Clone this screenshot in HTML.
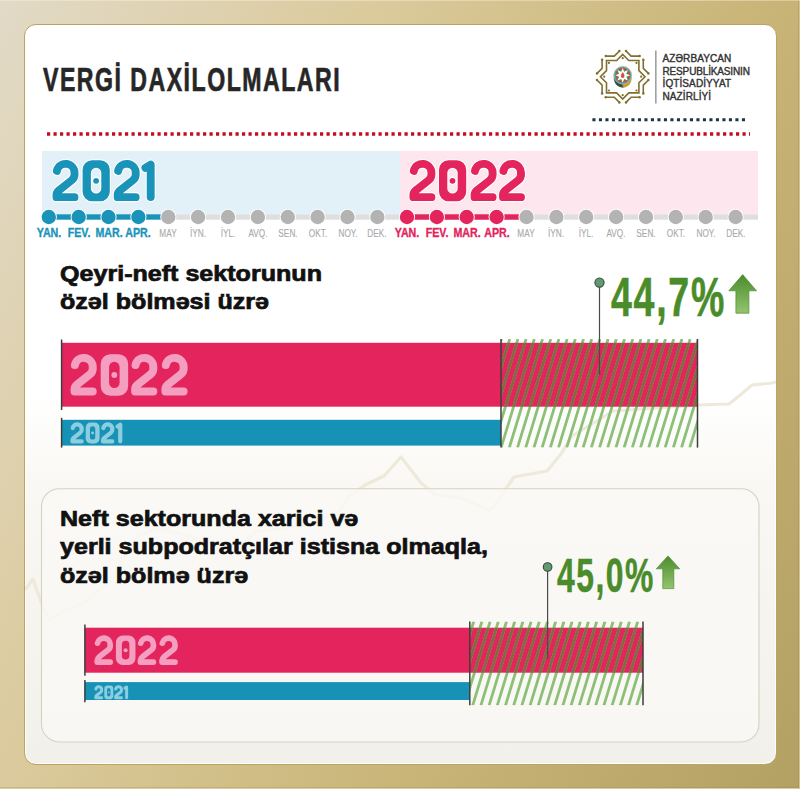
<!DOCTYPE html>
<html><head><meta charset="utf-8">
<style>
html,body{margin:0;padding:0;}
body{width:800px;height:789px;position:relative;overflow:hidden;
 background:linear-gradient(115deg,#e2dac7 0%,#dbca9c 32%,#c8b476 67%,#b3a063 100%);
 font-family:"Liberation Sans",sans-serif;}
#card{position:absolute;left:24px;top:24px;width:751px;height:739px;border:1px solid #bba45f;border-radius:12px;box-shadow:inset 0 0 0 1px rgba(255,255,255,0.9);
 background:linear-gradient(180deg,#ffffff 0%,#ffffff 50%,#f9f8f4 62%,#f2f0ea 100%);}
.t{position:absolute;white-space:nowrap;line-height:1;}
svg{position:absolute;left:0;top:0;}
</style></head><body>
<div id="card"></div>
<div style="position:absolute;left:0;top:788px;width:800px;height:1px;background:#d9cda6"></div>
<div style="position:absolute;left:799px;top:0;width:1px;height:789px;background:#d3c596"></div>
<div style="position:absolute;left:0;top:787px;width:799px;height:1px;background:rgba(150,130,60,0.25)"></div>
<div style="position:absolute;left:798px;top:0;width:1px;height:787px;background:rgba(150,130,60,0.25)"></div>
<div style="position:absolute;left:0;top:0;width:800px;height:1px;background:rgba(255,250,235,0.35)"></div>
<svg width="800" height="789" viewBox="0 0 800 789">
<defs>
 <clipPath id="cardclip"><rect x="25" y="25" width="751" height="739" rx="12"/></clipPath>
 <pattern id="hatch" patternUnits="userSpaceOnUse" width="8.25" height="108" patternTransform="skewX(-17)">
  <rect x="0" y="0" width="2.4" height="108" fill="#5d9e3a" fill-opacity="0.7"/>
 </pattern>
 <linearGradient id="arrowg" x1="0" y1="0" x2="0" y2="1">
  <stop offset="0" stop-color="#4b8c2c"/><stop offset="1" stop-color="#93c46e"/>
 </linearGradient>
<clipPath id="hc1"><rect x="501" y="339" width="196.5" height="108.60000000000002"/></clipPath>
<clipPath id="pc1"><rect x="501" y="342.8" width="196.5" height="63.89999999999998"/></clipPath>
<clipPath id="hc2"><rect x="469.8" y="621.5" width="173.2" height="83.79999999999995"/></clipPath>
<clipPath id="pc2"><rect x="469.8" y="627.7" width="173.2" height="45.0"/></clipPath>
</defs>
<g clip-path="url(#cardclip)"><polyline points="800,375 772,383 752,385 739,396 729,404 699,405 613,411 592,424 572,436 561,454 547,471 514,477 495,505 489,510 462,498 436,495 421,483 401,457 384,476 365,485 350,496 339,511 313,524 256,532 241,545 200,540 160,528 139,535 122,561 110,581 86,602 66,610 49,620 41,602 33,579 25,590" fill="none" stroke="#eee9da" stroke-width="3.2" stroke-linejoin="round"/></g>
<rect x="41.5" y="488.7" width="717.5" height="253.3" rx="18" fill="#faf9f6" fill-opacity="0.8" stroke="#d7d1bf" stroke-width="1.1"/>
<line x1="47" y1="134" x2="750" y2="134" stroke="#c30d1f" stroke-width="3.3" stroke-dasharray="3.2 3.3"/>
<line x1="592.4" y1="119.8" x2="745" y2="119.8" stroke="#1c3645" stroke-width="3.1" stroke-dasharray="3.1 3.4"/>
<rect x="655.2" y="50.5" width="1.3" height="53" fill="#8a8a8a"/>
<g transform="translate(622.7,76.7)" fill="none" stroke="#80702f" stroke-width="1.6">
<path d="M-16.90,-20.60 L-8.40,-20.60 L-3.30,-25.70 M3.30,-25.70 L8.40,-20.60 L16.90,-20.60 M20.60,-16.90 L20.60,-8.40 L25.70,-3.30 M25.70,3.30 L20.60,8.40 L20.60,16.90 M16.90,20.60 L8.40,20.60 L3.30,25.70 M-3.30,25.70 L-8.40,20.60 L-16.90,20.60 M-20.60,16.90 L-20.60,8.40 L-25.70,3.30 M-25.70,-3.30 L-20.60,-8.40 L-20.60,-16.90"/>
<circle cx="-16.90" cy="-20.60" r="1.25" fill="#80702f" stroke="none"/>
<circle cx="-3.30" cy="-25.70" r="1.25" fill="#80702f" stroke="none"/>
<circle cx="3.30" cy="-25.70" r="1.25" fill="#80702f" stroke="none"/>
<circle cx="16.90" cy="-20.60" r="1.25" fill="#80702f" stroke="none"/>
<circle cx="20.60" cy="-16.90" r="1.25" fill="#80702f" stroke="none"/>
<circle cx="25.70" cy="-3.30" r="1.25" fill="#80702f" stroke="none"/>
<circle cx="25.70" cy="3.30" r="1.25" fill="#80702f" stroke="none"/>
<circle cx="20.60" cy="16.90" r="1.25" fill="#80702f" stroke="none"/>
<circle cx="16.90" cy="20.60" r="1.25" fill="#80702f" stroke="none"/>
<circle cx="3.30" cy="25.70" r="1.25" fill="#80702f" stroke="none"/>
<circle cx="-3.30" cy="25.70" r="1.25" fill="#80702f" stroke="none"/>
<circle cx="-16.90" cy="20.60" r="1.25" fill="#80702f" stroke="none"/>
<circle cx="-20.60" cy="16.90" r="1.25" fill="#80702f" stroke="none"/>
<circle cx="-25.70" cy="3.30" r="1.25" fill="#80702f" stroke="none"/>
<circle cx="-25.70" cy="-3.30" r="1.25" fill="#80702f" stroke="none"/>
<circle cx="-20.60" cy="-16.90" r="1.25" fill="#80702f" stroke="none"/>
<path d="M-16.20,-16.20 L-6.10,-16.20 L0.00,-22.30 L6.10,-16.20 L16.20,-16.20 L16.20,-6.10 L22.30,-0.00 L16.20,6.10 L16.20,16.20 L6.10,16.20 L0.00,22.30 L-6.10,16.20 L-16.20,16.20 L-16.20,6.10 L-22.30,0.00 L-16.20,-6.10 Z" stroke-width="1.6"/>
</g>
<circle cx="641.20" cy="76.70" r="1.1" fill="#80702f"/>
<circle cx="636.49" cy="90.49" r="1.1" fill="#80702f"/>
<circle cx="622.70" cy="95.20" r="1.1" fill="#80702f"/>
<circle cx="608.91" cy="90.49" r="1.1" fill="#80702f"/>
<circle cx="604.20" cy="76.70" r="1.1" fill="#80702f"/>
<circle cx="608.91" cy="62.91" r="1.1" fill="#80702f"/>
<circle cx="622.70" cy="58.20" r="1.1" fill="#80702f"/>
<circle cx="636.49" cy="62.91" r="1.1" fill="#80702f"/>
<path d="M613.7,77.3 C613.7,84.3 618.7,87.8 623.7,87.8 L623.7,84.3 Z" fill="#1f4f4a"/>
<path d="M631.7,77.3 C631.7,84.3 627.7,87.3 622.7,87.8 L622.7,84.3 Z" fill="#c99a35"/>
<circle cx="622.7" cy="75.3" r="8.9" fill="#26aee0" stroke="#e0ad45" stroke-width="0.8"/>
<circle cx="622.7" cy="75.3" r="7.3" fill="#e63c2e"/>
<circle cx="622.7" cy="75.3" r="6.0" fill="#3f9c4c"/>
<polygon points="622.70,67.90 624.19,71.70 627.93,70.07 626.30,73.81 630.10,75.30 626.30,76.79 627.93,80.53 624.19,78.90 622.70,82.70 621.21,78.90 617.47,80.53 619.10,76.79 615.30,75.30 619.10,73.81 617.47,70.07 621.21,71.70" fill="#ffffff"/>
<path d="M622.7,72.1 C624.3000000000001,74.3 624.7,75.8 624.3000000000001,77.1 C623.7,78.3 621.7,78.3 621.1,77.1 C620.7,75.8 621.1,74.3 622.7,72.1 Z" fill="#e1473f"/>
<rect x="42" y="151" width="358" height="63.5" fill="#e2f1f7"/>
<rect x="400" y="151" width="358" height="63.5" fill="#fde6ee"/>
<rect x="160" y="214.4" width="598" height="5.3" fill="#dedede"/>
<rect x="48.8" y="214.3" width="115" height="5.4" fill="#1a93b9"/>
<rect x="407" y="214.3" width="115" height="5.4" fill="#e3245d"/>
<circle cx="48.8" cy="217" r="8.1" fill="#fff"/>
<circle cx="48.8" cy="217" r="7.2" fill="#1a93b9"/>
<circle cx="78.7" cy="217" r="8.1" fill="#fff"/>
<circle cx="78.7" cy="217" r="7.2" fill="#1a93b9"/>
<circle cx="108.5" cy="217" r="8.1" fill="#fff"/>
<circle cx="108.5" cy="217" r="7.2" fill="#1a93b9"/>
<circle cx="138.4" cy="217" r="8.1" fill="#fff"/>
<circle cx="138.4" cy="217" r="7.2" fill="#1a93b9"/>
<circle cx="168.3" cy="217" r="8.1" fill="#fff"/>
<circle cx="168.3" cy="217" r="7.2" fill="#b3b3b3"/>
<circle cx="198.1" cy="217" r="8.1" fill="#fff"/>
<circle cx="198.1" cy="217" r="7.2" fill="#b3b3b3"/>
<circle cx="228.0" cy="217" r="8.1" fill="#fff"/>
<circle cx="228.0" cy="217" r="7.2" fill="#b3b3b3"/>
<circle cx="257.9" cy="217" r="8.1" fill="#fff"/>
<circle cx="257.9" cy="217" r="7.2" fill="#b3b3b3"/>
<circle cx="287.8" cy="217" r="8.1" fill="#fff"/>
<circle cx="287.8" cy="217" r="7.2" fill="#b3b3b3"/>
<circle cx="317.6" cy="217" r="8.1" fill="#fff"/>
<circle cx="317.6" cy="217" r="7.2" fill="#b3b3b3"/>
<circle cx="347.5" cy="217" r="8.1" fill="#fff"/>
<circle cx="347.5" cy="217" r="7.2" fill="#b3b3b3"/>
<circle cx="377.4" cy="217" r="8.1" fill="#fff"/>
<circle cx="377.4" cy="217" r="7.2" fill="#b3b3b3"/>
<circle cx="407.0" cy="217" r="8.1" fill="#fff"/>
<circle cx="407.0" cy="217" r="7.2" fill="#e3245d"/>
<circle cx="436.9" cy="217" r="8.1" fill="#fff"/>
<circle cx="436.9" cy="217" r="7.2" fill="#e3245d"/>
<circle cx="466.7" cy="217" r="8.1" fill="#fff"/>
<circle cx="466.7" cy="217" r="7.2" fill="#e3245d"/>
<circle cx="496.6" cy="217" r="8.1" fill="#fff"/>
<circle cx="496.6" cy="217" r="7.2" fill="#e3245d"/>
<circle cx="526.5" cy="217" r="8.1" fill="#fff"/>
<circle cx="526.5" cy="217" r="7.2" fill="#b3b3b3"/>
<circle cx="556.4" cy="217" r="8.1" fill="#fff"/>
<circle cx="556.4" cy="217" r="7.2" fill="#b3b3b3"/>
<circle cx="586.2" cy="217" r="8.1" fill="#fff"/>
<circle cx="586.2" cy="217" r="7.2" fill="#b3b3b3"/>
<circle cx="616.1" cy="217" r="8.1" fill="#fff"/>
<circle cx="616.1" cy="217" r="7.2" fill="#b3b3b3"/>
<circle cx="646.0" cy="217" r="8.1" fill="#fff"/>
<circle cx="646.0" cy="217" r="7.2" fill="#b3b3b3"/>
<circle cx="675.8" cy="217" r="8.1" fill="#fff"/>
<circle cx="675.8" cy="217" r="7.2" fill="#b3b3b3"/>
<circle cx="705.7" cy="217" r="8.1" fill="#fff"/>
<circle cx="705.7" cy="217" r="7.2" fill="#b3b3b3"/>
<circle cx="735.6" cy="217" r="8.1" fill="#fff"/>
<circle cx="735.6" cy="217" r="7.2" fill="#b3b3b3"/>
<g transform="translate(52.4,160.3) scale(1.0)" fill="none" stroke-linecap="round" stroke-linejoin="round">
<path transform="translate(0,0)" d="M4.5,10.6 A8.9,8.9 0 0 1 22.1,12.75 L22.1,14.5 C22.1,17 21,18.6 19,20.2 L6.5,30 C4.8,31.4 4.1,32.6 4.1,34.5 L4.1,36.85 L22.1,36.85" stroke="#fff" stroke-width="10.100000000000001"/>
<path transform="translate(30.2,0)" d="M9.5,0 H17.7 A9.5,9.5 0 0 1 27.2,9.5 V31.5 A9.5,9.5 0 0 1 17.7,41 H9.5 A9.5,9.5 0 0 1 0,31.5 V9.5 A9.5,9.5 0 0 1 9.5,0 Z M13.5,7.4 A5.2,5.2 0 0 1 18.7,12.6 V28.1 A5.2,5.2 0 0 1 8.3,28.1 V12.6 A5.2,5.2 0 0 1 13.5,7.4 Z" fill="#fff" fill-rule="evenodd" stroke="#fff" stroke-width="2.2"/>
<circle cx="43.7" cy="20.5" r="4" fill="#fff" stroke="none"/>
<path transform="translate(61.2,0)" d="M4.5,10.6 A8.9,8.9 0 0 1 22.1,12.75 L22.1,14.5 C22.1,17 21,18.6 19,20.2 L6.5,30 C4.8,31.4 4.1,32.6 4.1,34.5 L4.1,36.85 L22.1,36.85" stroke="#fff" stroke-width="10.100000000000001"/>
<path transform="translate(88.6,0)" d="M4.4,7.6 L9.7,4.3 L9.7,36.8" stroke="#fff" stroke-width="10.100000000000001"/>
<path transform="translate(0,0)" d="M4.5,10.6 A8.9,8.9 0 0 1 22.1,12.75 L22.1,14.5 C22.1,17 21,18.6 19,20.2 L6.5,30 C4.8,31.4 4.1,32.6 4.1,34.5 L4.1,36.85 L22.1,36.85" stroke="#1a93b9" stroke-width="7.9"/>
<path transform="translate(30.2,0)" d="M9.5,0 H17.7 A9.5,9.5 0 0 1 27.2,9.5 V31.5 A9.5,9.5 0 0 1 17.7,41 H9.5 A9.5,9.5 0 0 1 0,31.5 V9.5 A9.5,9.5 0 0 1 9.5,0 Z M13.5,7.4 A5.2,5.2 0 0 1 18.7,12.6 V28.1 A5.2,5.2 0 0 1 8.3,28.1 V12.6 A5.2,5.2 0 0 1 13.5,7.4 Z" fill="#1a93b9" fill-rule="evenodd" stroke="none"/>
<circle cx="43.7" cy="20.5" r="2.9" fill="#1a93b9" stroke="none"/>
<path transform="translate(61.2,0)" d="M4.5,10.6 A8.9,8.9 0 0 1 22.1,12.75 L22.1,14.5 C22.1,17 21,18.6 19,20.2 L6.5,30 C4.8,31.4 4.1,32.6 4.1,34.5 L4.1,36.85 L22.1,36.85" stroke="#1a93b9" stroke-width="7.9"/>
<path transform="translate(88.6,0)" d="M4.4,7.6 L9.7,4.3 L9.7,36.8" stroke="#1a93b9" stroke-width="7.9"/>
</g>
<g transform="translate(409.3,160.3) scale(1.0)" fill="none" stroke-linecap="round" stroke-linejoin="round">
<path transform="translate(0,0)" d="M4.5,10.6 A8.9,8.9 0 0 1 22.1,12.75 L22.1,14.5 C22.1,17 21,18.6 19,20.2 L6.5,30 C4.8,31.4 4.1,32.6 4.1,34.5 L4.1,36.85 L22.1,36.85" stroke="#fff" stroke-width="10.100000000000001"/>
<path transform="translate(29.7,0)" d="M9.5,0 H17.7 A9.5,9.5 0 0 1 27.2,9.5 V31.5 A9.5,9.5 0 0 1 17.7,41 H9.5 A9.5,9.5 0 0 1 0,31.5 V9.5 A9.5,9.5 0 0 1 9.5,0 Z M13.5,7.4 A5.2,5.2 0 0 1 18.7,12.6 V28.1 A5.2,5.2 0 0 1 8.3,28.1 V12.6 A5.2,5.2 0 0 1 13.5,7.4 Z" fill="#fff" fill-rule="evenodd" stroke="#fff" stroke-width="2.2"/>
<circle cx="43.2" cy="20.5" r="4" fill="#fff" stroke="none"/>
<path transform="translate(61.2,0)" d="M4.5,10.6 A8.9,8.9 0 0 1 22.1,12.75 L22.1,14.5 C22.1,17 21,18.6 19,20.2 L6.5,30 C4.8,31.4 4.1,32.6 4.1,34.5 L4.1,36.85 L22.1,36.85" stroke="#fff" stroke-width="10.100000000000001"/>
<path transform="translate(89.6,0)" d="M4.5,10.6 A8.9,8.9 0 0 1 22.1,12.75 L22.1,14.5 C22.1,17 21,18.6 19,20.2 L6.5,30 C4.8,31.4 4.1,32.6 4.1,34.5 L4.1,36.85 L22.1,36.85" stroke="#fff" stroke-width="10.100000000000001"/>
<path transform="translate(0,0)" d="M4.5,10.6 A8.9,8.9 0 0 1 22.1,12.75 L22.1,14.5 C22.1,17 21,18.6 19,20.2 L6.5,30 C4.8,31.4 4.1,32.6 4.1,34.5 L4.1,36.85 L22.1,36.85" stroke="#e3245d" stroke-width="7.9"/>
<path transform="translate(29.7,0)" d="M9.5,0 H17.7 A9.5,9.5 0 0 1 27.2,9.5 V31.5 A9.5,9.5 0 0 1 17.7,41 H9.5 A9.5,9.5 0 0 1 0,31.5 V9.5 A9.5,9.5 0 0 1 9.5,0 Z M13.5,7.4 A5.2,5.2 0 0 1 18.7,12.6 V28.1 A5.2,5.2 0 0 1 8.3,28.1 V12.6 A5.2,5.2 0 0 1 13.5,7.4 Z" fill="#e3245d" fill-rule="evenodd" stroke="none"/>
<circle cx="43.2" cy="20.5" r="2.9" fill="#e3245d" stroke="none"/>
<path transform="translate(61.2,0)" d="M4.5,10.6 A8.9,8.9 0 0 1 22.1,12.75 L22.1,14.5 C22.1,17 21,18.6 19,20.2 L6.5,30 C4.8,31.4 4.1,32.6 4.1,34.5 L4.1,36.85 L22.1,36.85" stroke="#e3245d" stroke-width="7.9"/>
<path transform="translate(89.6,0)" d="M4.5,10.6 A8.9,8.9 0 0 1 22.1,12.75 L22.1,14.5 C22.1,17 21,18.6 19,20.2 L6.5,30 C4.8,31.4 4.1,32.6 4.1,34.5 L4.1,36.85 L22.1,36.85" stroke="#e3245d" stroke-width="7.9"/>
</g>
<rect x="61.6" y="342.8" width="635.9" height="63.89999999999998" fill="#e3245d"/>
<rect x="61.6" y="419.8" width="439.4" height="25.80000000000001" fill="#1592b6"/>
<path d="M501.51,339 L468.31,447.6 M509.71,339 L476.51,447.6 M517.91,339 L484.71,447.6 M526.11,339 L492.91,447.6 M534.31,339 L501.11,447.6 M542.51,339 L509.31,447.6 M550.71,339 L517.51,447.6 M558.91,339 L525.71,447.6 M567.11,339 L533.91,447.6 M575.31,339 L542.11,447.6 M583.51,339 L550.31,447.6 M591.71,339 L558.51,447.6 M599.91,339 L566.71,447.6 M608.11,339 L574.91,447.6 M616.31,339 L583.11,447.6 M624.51,339 L591.31,447.6 M632.71,339 L599.51,447.6 M640.91,339 L607.71,447.6 M649.11,339 L615.91,447.6 M657.31,339 L624.11,447.6 M665.51,339 L632.31,447.6 M673.71,339 L640.51,447.6 M681.91,339 L648.71,447.6 M690.11,339 L656.91,447.6 M698.31,339 L665.11,447.6 M706.51,339 L673.31,447.6 M714.71,339 L681.51,447.6 M722.91,339 L689.71,447.6 M731.11,339 L697.91,447.6" stroke="#8cc076" stroke-width="2.8" clip-path="url(#hc1)"/>
<path d="M501.51,339 L468.31,447.6 M509.71,339 L476.51,447.6 M517.91,339 L484.71,447.6 M526.11,339 L492.91,447.6 M534.31,339 L501.11,447.6 M542.51,339 L509.31,447.6 M550.71,339 L517.51,447.6 M558.91,339 L525.71,447.6 M567.11,339 L533.91,447.6 M575.31,339 L542.11,447.6 M583.51,339 L550.31,447.6 M591.71,339 L558.51,447.6 M599.91,339 L566.71,447.6 M608.11,339 L574.91,447.6 M616.31,339 L583.11,447.6 M624.51,339 L591.31,447.6 M632.71,339 L599.51,447.6 M640.91,339 L607.71,447.6 M649.11,339 L615.91,447.6 M657.31,339 L624.11,447.6 M665.51,339 L632.31,447.6 M673.71,339 L640.51,447.6 M681.91,339 L648.71,447.6 M690.11,339 L656.91,447.6 M698.31,339 L665.11,447.6 M706.51,339 L673.31,447.6 M714.71,339 L681.51,447.6 M722.91,339 L689.71,447.6 M731.11,339 L697.91,447.6" stroke="#7f6a42" stroke-width="2.8" clip-path="url(#pc1)"/>
<g stroke="#3d3d3d" stroke-width="1.5">
<line x1="61.6" y1="339.5" x2="61.6" y2="410"/>
<line x1="61.6" y1="417.8" x2="61.6" y2="447.6"/>
<line x1="501" y1="339" x2="501" y2="447.6"/>
<line x1="697.5" y1="339" x2="697.5" y2="447.6"/>
</g>
<line x1="599.5" y1="282.6" x2="599.5" y2="375" stroke="#4a4a4a" stroke-width="1.2"/>
<circle cx="599.5" cy="282.6" r="4.6" fill="#5f9a72" stroke="#38463d" stroke-width="1.1"/>
<rect x="84.9" y="627.7" width="558.1" height="45.0" fill="#e3245d"/>
<rect x="84.9" y="682.1" width="384.9" height="17.899999999999977" fill="#1592b6"/>
<path d="M473.72,621.5 L448.10,705.3 M481.92,621.5 L456.30,705.3 M490.12,621.5 L464.50,705.3 M498.32,621.5 L472.70,705.3 M506.52,621.5 L480.90,705.3 M514.72,621.5 L489.10,705.3 M522.92,621.5 L497.30,705.3 M531.12,621.5 L505.50,705.3 M539.32,621.5 L513.70,705.3 M547.52,621.5 L521.90,705.3 M555.72,621.5 L530.10,705.3 M563.92,621.5 L538.30,705.3 M572.12,621.5 L546.50,705.3 M580.32,621.5 L554.70,705.3 M588.52,621.5 L562.90,705.3 M596.72,621.5 L571.10,705.3 M604.92,621.5 L579.30,705.3 M613.12,621.5 L587.50,705.3 M621.32,621.5 L595.70,705.3 M629.52,621.5 L603.90,705.3 M637.72,621.5 L612.10,705.3 M645.92,621.5 L620.30,705.3 M654.12,621.5 L628.50,705.3 M662.32,621.5 L636.70,705.3 M670.52,621.5 L644.90,705.3" stroke="#8cc076" stroke-width="2.8" clip-path="url(#hc2)"/>
<path d="M473.72,621.5 L448.10,705.3 M481.92,621.5 L456.30,705.3 M490.12,621.5 L464.50,705.3 M498.32,621.5 L472.70,705.3 M506.52,621.5 L480.90,705.3 M514.72,621.5 L489.10,705.3 M522.92,621.5 L497.30,705.3 M531.12,621.5 L505.50,705.3 M539.32,621.5 L513.70,705.3 M547.52,621.5 L521.90,705.3 M555.72,621.5 L530.10,705.3 M563.92,621.5 L538.30,705.3 M572.12,621.5 L546.50,705.3 M580.32,621.5 L554.70,705.3 M588.52,621.5 L562.90,705.3 M596.72,621.5 L571.10,705.3 M604.92,621.5 L579.30,705.3 M613.12,621.5 L587.50,705.3 M621.32,621.5 L595.70,705.3 M629.52,621.5 L603.90,705.3 M637.72,621.5 L612.10,705.3 M645.92,621.5 L620.30,705.3 M654.12,621.5 L628.50,705.3 M662.32,621.5 L636.70,705.3 M670.52,621.5 L644.90,705.3" stroke="#7f6a42" stroke-width="2.8" clip-path="url(#pc2)"/>
<g stroke="#3d3d3d" stroke-width="1.5">
<line x1="84.9" y1="624.4" x2="84.9" y2="675.8"/>
<line x1="84.9" y1="680" x2="84.9" y2="702.3"/>
<line x1="469.8" y1="621.5" x2="469.8" y2="705.3"/>
<line x1="643" y1="621.5" x2="643" y2="705.3"/>
</g>
<line x1="547.6" y1="567" x2="547.6" y2="659" stroke="#4a4a4a" stroke-width="1.2"/>
<circle cx="547.6" cy="567" r="4.3" fill="#5f9a72" stroke="#38463d" stroke-width="1.1"/>
<path d="M742.65,274.6 L756.5,290.8 L748.9,290.8 L748.9,313.2 L735.9,313.2 L735.9,290.8 L728.8,290.8 Z" fill="url(#arrowg)" stroke="#4f8e30" stroke-width="0.7" stroke-linejoin="miter"/>
<path d="M668.0,555.9 L679.7,568.8 L673.8,568.8 L673.8,588.6 L662.8,588.6 L662.8,568.8 L656.3,568.8 Z" fill="url(#arrowg)" stroke="#4f8e30" stroke-width="0.7" stroke-linejoin="miter"/>
<g transform="translate(70.4,354.3) scale(1.01)" fill="none" stroke-linecap="round" stroke-linejoin="round">
<path transform="translate(0,0)" d="M4.5,10.6 A8.9,8.9 0 0 1 22.1,12.75 L22.1,14.5 C22.1,17 21,18.6 19,20.2 L6.5,30 C4.8,31.4 4.1,32.6 4.1,34.5 L4.1,36.85 L22.1,36.85" stroke="#f49fc0" stroke-width="7.9"/>
<path transform="translate(30,0)" d="M9.5,0 H17.7 A9.5,9.5 0 0 1 27.2,9.5 V31.5 A9.5,9.5 0 0 1 17.7,41 H9.5 A9.5,9.5 0 0 1 0,31.5 V9.5 A9.5,9.5 0 0 1 9.5,0 Z M13.5,7.4 A5.2,5.2 0 0 1 18.7,12.6 V28.1 A5.2,5.2 0 0 1 8.3,28.1 V12.6 A5.2,5.2 0 0 1 13.5,7.4 Z" fill="#f49fc0" fill-rule="evenodd" stroke="none"/>
<circle cx="43.5" cy="20.5" r="2.9" fill="#f49fc0" stroke="none"/>
<path transform="translate(60,0)" d="M4.5,10.6 A8.9,8.9 0 0 1 22.1,12.75 L22.1,14.5 C22.1,17 21,18.6 19,20.2 L6.5,30 C4.8,31.4 4.1,32.6 4.1,34.5 L4.1,36.85 L22.1,36.85" stroke="#f49fc0" stroke-width="7.9"/>
<path transform="translate(90,0)" d="M4.5,10.6 A8.9,8.9 0 0 1 22.1,12.75 L22.1,14.5 C22.1,17 21,18.6 19,20.2 L6.5,30 C4.8,31.4 4.1,32.6 4.1,34.5 L4.1,36.85 L22.1,36.85" stroke="#f49fc0" stroke-width="7.9"/>
</g>
<g transform="translate(70.4,422.6) scale(0.51)" fill="none" stroke-linecap="round" stroke-linejoin="round">
<path transform="translate(0,0)" d="M4.5,10.6 A8.9,8.9 0 0 1 22.1,12.75 L22.1,14.5 C22.1,17 21,18.6 19,20.2 L6.5,30 C4.8,31.4 4.1,32.6 4.1,34.5 L4.1,36.85 L22.1,36.85" stroke="#8dcde0" stroke-width="8.3"/>
<path transform="translate(30,0)" d="M9.5,0 H17.7 A9.5,9.5 0 0 1 27.2,9.5 V31.5 A9.5,9.5 0 0 1 17.7,41 H9.5 A9.5,9.5 0 0 1 0,31.5 V9.5 A9.5,9.5 0 0 1 9.5,0 Z M13.5,7.4 A5.2,5.2 0 0 1 18.7,12.6 V28.1 A5.2,5.2 0 0 1 8.3,28.1 V12.6 A5.2,5.2 0 0 1 13.5,7.4 Z" fill="#8dcde0" fill-rule="evenodd" stroke="none"/>
<circle cx="43.5" cy="20.5" r="2.9" fill="#8dcde0" stroke="none"/>
<path transform="translate(60,0)" d="M4.5,10.6 A8.9,8.9 0 0 1 22.1,12.75 L22.1,14.5 C22.1,17 21,18.6 19,20.2 L6.5,30 C4.8,31.4 4.1,32.6 4.1,34.5 L4.1,36.85 L22.1,36.85" stroke="#8dcde0" stroke-width="8.3"/>
<path transform="translate(88,0)" d="M4.4,7.6 L9.7,4.3 L9.7,36.8" stroke="#8dcde0" stroke-width="8.3"/>
</g>
<g transform="translate(94.3,635.5) scale(0.72)" fill="none" stroke-linecap="round" stroke-linejoin="round">
<path transform="translate(0,0)" d="M4.5,10.6 A8.9,8.9 0 0 1 22.1,12.75 L22.1,14.5 C22.1,17 21,18.6 19,20.2 L6.5,30 C4.8,31.4 4.1,32.6 4.1,34.5 L4.1,36.85 L22.1,36.85" stroke="#f49fc0" stroke-width="7.9"/>
<path transform="translate(30,0)" d="M9.5,0 H17.7 A9.5,9.5 0 0 1 27.2,9.5 V31.5 A9.5,9.5 0 0 1 17.7,41 H9.5 A9.5,9.5 0 0 1 0,31.5 V9.5 A9.5,9.5 0 0 1 9.5,0 Z M13.5,7.4 A5.2,5.2 0 0 1 18.7,12.6 V28.1 A5.2,5.2 0 0 1 8.3,28.1 V12.6 A5.2,5.2 0 0 1 13.5,7.4 Z" fill="#f49fc0" fill-rule="evenodd" stroke="none"/>
<circle cx="43.5" cy="20.5" r="2.9" fill="#f49fc0" stroke="none"/>
<path transform="translate(60,0)" d="M4.5,10.6 A8.9,8.9 0 0 1 22.1,12.75 L22.1,14.5 C22.1,17 21,18.6 19,20.2 L6.5,30 C4.8,31.4 4.1,32.6 4.1,34.5 L4.1,36.85 L22.1,36.85" stroke="#f49fc0" stroke-width="7.9"/>
<path transform="translate(90,0)" d="M4.5,10.6 A8.9,8.9 0 0 1 22.1,12.75 L22.1,14.5 C22.1,17 21,18.6 19,20.2 L6.5,30 C4.8,31.4 4.1,32.6 4.1,34.5 L4.1,36.85 L22.1,36.85" stroke="#f49fc0" stroke-width="7.9"/>
</g>
<g transform="translate(94.4,685.6) scale(0.33)" fill="none" stroke-linecap="round" stroke-linejoin="round">
<path transform="translate(0,0)" d="M4.5,10.6 A8.9,8.9 0 0 1 22.1,12.75 L22.1,14.5 C22.1,17 21,18.6 19,20.2 L6.5,30 C4.8,31.4 4.1,32.6 4.1,34.5 L4.1,36.85 L22.1,36.85" stroke="#8dcde0" stroke-width="9"/>
<path transform="translate(30,0)" d="M9.5,0 H17.7 A9.5,9.5 0 0 1 27.2,9.5 V31.5 A9.5,9.5 0 0 1 17.7,41 H9.5 A9.5,9.5 0 0 1 0,31.5 V9.5 A9.5,9.5 0 0 1 9.5,0 Z M13.5,7.4 A5.2,5.2 0 0 1 18.7,12.6 V28.1 A5.2,5.2 0 0 1 8.3,28.1 V12.6 A5.2,5.2 0 0 1 13.5,7.4 Z" fill="#8dcde0" fill-rule="evenodd" stroke="none"/>
<circle cx="43.5" cy="20.5" r="2.9" fill="#8dcde0" stroke="none"/>
<path transform="translate(60,0)" d="M4.5,10.6 A8.9,8.9 0 0 1 22.1,12.75 L22.1,14.5 C22.1,17 21,18.6 19,20.2 L6.5,30 C4.8,31.4 4.1,32.6 4.1,34.5 L4.1,36.85 L22.1,36.85" stroke="#8dcde0" stroke-width="9"/>
<path transform="translate(88,0)" d="M4.4,7.6 L9.7,4.3 L9.7,36.8" stroke="#8dcde0" stroke-width="9"/>
</g>
</svg>
<div class="t" style="left:48.8px;top:226.50px;font-size:12.4px;font-weight:bold;-webkit-text-stroke:0.35px #1a93b9;color:#1a93b9;transform:translateX(-50%) scaleX(0.86);">YAN.</div>
<div class="t" style="left:78.67px;top:226.50px;font-size:12.4px;font-weight:bold;-webkit-text-stroke:0.35px #1a93b9;color:#1a93b9;transform:translateX(-50%) scaleX(0.86);">FEV.</div>
<div class="t" style="left:108.53999999999999px;top:226.50px;font-size:12.4px;font-weight:bold;-webkit-text-stroke:0.35px #1a93b9;color:#1a93b9;transform:translateX(-50%) scaleX(0.86);">MAR.</div>
<div class="t" style="left:138.41px;top:226.50px;font-size:12.4px;font-weight:bold;-webkit-text-stroke:0.35px #1a93b9;color:#1a93b9;transform:translateX(-50%) scaleX(0.86);">APR.</div>
<div class="t" style="left:168.28px;top:229.47px;font-size:10.2px;font-weight:normal;-webkit-text-stroke:0.12px #aaaaaa;color:#aaaaaa;transform:translateX(-50%) scaleX(0.81);">MAY</div>
<div class="t" style="left:198.14999999999998px;top:229.47px;font-size:10.2px;font-weight:normal;-webkit-text-stroke:0.12px #aaaaaa;color:#aaaaaa;transform:translateX(-50%) scaleX(0.81);">İYN.</div>
<div class="t" style="left:228.01999999999998px;top:229.47px;font-size:10.2px;font-weight:normal;-webkit-text-stroke:0.12px #aaaaaa;color:#aaaaaa;transform:translateX(-50%) scaleX(0.81);">İYL.</div>
<div class="t" style="left:257.89px;top:229.47px;font-size:10.2px;font-weight:normal;-webkit-text-stroke:0.12px #aaaaaa;color:#aaaaaa;transform:translateX(-50%) scaleX(0.81);">AVQ.</div>
<div class="t" style="left:287.76px;top:229.47px;font-size:10.2px;font-weight:normal;-webkit-text-stroke:0.12px #aaaaaa;color:#aaaaaa;transform:translateX(-50%) scaleX(0.81);">SEN.</div>
<div class="t" style="left:317.63px;top:229.47px;font-size:10.2px;font-weight:normal;-webkit-text-stroke:0.12px #aaaaaa;color:#aaaaaa;transform:translateX(-50%) scaleX(0.81);">OKT.</div>
<div class="t" style="left:347.5px;top:229.47px;font-size:10.2px;font-weight:normal;-webkit-text-stroke:0.12px #aaaaaa;color:#aaaaaa;transform:translateX(-50%) scaleX(0.81);">NOY.</div>
<div class="t" style="left:377.37px;top:229.47px;font-size:10.2px;font-weight:normal;-webkit-text-stroke:0.12px #aaaaaa;color:#aaaaaa;transform:translateX(-50%) scaleX(0.81);">DEK.</div>
<div class="t" style="left:407.0px;top:226.50px;font-size:12.4px;font-weight:bold;-webkit-text-stroke:0.35px #e3245d;color:#e3245d;transform:translateX(-50%) scaleX(0.86);">YAN.</div>
<div class="t" style="left:436.87px;top:226.50px;font-size:12.4px;font-weight:bold;-webkit-text-stroke:0.35px #e3245d;color:#e3245d;transform:translateX(-50%) scaleX(0.86);">FEV.</div>
<div class="t" style="left:466.74px;top:226.50px;font-size:12.4px;font-weight:bold;-webkit-text-stroke:0.35px #e3245d;color:#e3245d;transform:translateX(-50%) scaleX(0.86);">MAR.</div>
<div class="t" style="left:496.61px;top:226.50px;font-size:12.4px;font-weight:bold;-webkit-text-stroke:0.35px #e3245d;color:#e3245d;transform:translateX(-50%) scaleX(0.86);">APR.</div>
<div class="t" style="left:526.48px;top:229.47px;font-size:10.2px;font-weight:normal;-webkit-text-stroke:0.12px #aaaaaa;color:#aaaaaa;transform:translateX(-50%) scaleX(0.81);">MAY</div>
<div class="t" style="left:556.35px;top:229.47px;font-size:10.2px;font-weight:normal;-webkit-text-stroke:0.12px #aaaaaa;color:#aaaaaa;transform:translateX(-50%) scaleX(0.81);">İYN.</div>
<div class="t" style="left:586.22px;top:229.47px;font-size:10.2px;font-weight:normal;-webkit-text-stroke:0.12px #aaaaaa;color:#aaaaaa;transform:translateX(-50%) scaleX(0.81);">İYL.</div>
<div class="t" style="left:616.09px;top:229.47px;font-size:10.2px;font-weight:normal;-webkit-text-stroke:0.12px #aaaaaa;color:#aaaaaa;transform:translateX(-50%) scaleX(0.81);">AVQ.</div>
<div class="t" style="left:645.96px;top:229.47px;font-size:10.2px;font-weight:normal;-webkit-text-stroke:0.12px #aaaaaa;color:#aaaaaa;transform:translateX(-50%) scaleX(0.81);">SEN.</div>
<div class="t" style="left:675.8299999999999px;top:229.47px;font-size:10.2px;font-weight:normal;-webkit-text-stroke:0.12px #aaaaaa;color:#aaaaaa;transform:translateX(-50%) scaleX(0.81);">OKT.</div>
<div class="t" style="left:705.7px;top:229.47px;font-size:10.2px;font-weight:normal;-webkit-text-stroke:0.12px #aaaaaa;color:#aaaaaa;transform:translateX(-50%) scaleX(0.81);">NOY.</div>
<div class="t" style="left:735.5699999999999px;top:229.47px;font-size:10.2px;font-weight:normal;-webkit-text-stroke:0.12px #aaaaaa;color:#aaaaaa;transform:translateX(-50%) scaleX(0.81);">DEK.</div>
<div class="t" style="left:43.3px;top:62.67px;font-size:33px;font-weight:bold;color:#262626;letter-spacing:2.15px;transform:scaleX(0.70);transform-origin:0 0;-webkit-text-stroke:0.7px #262626;">VERGİ DAXİLOLMALARI</div>
<div class="t" style="left:662.5px;top:54.14px;font-size:10px;font-weight:normal;color:#333333;letter-spacing:0.1px;-webkit-text-stroke:0.4px #333;">AZƏRBAYCAN</div>
<div class="t" style="left:662.5px;top:66.53px;font-size:10px;font-weight:normal;color:#333333;letter-spacing:-0.15px;-webkit-text-stroke:0.4px #333;">RESPUBLİKASININ</div>
<div class="t" style="left:662.5px;top:79.13px;font-size:10px;font-weight:normal;color:#333333;letter-spacing:0.1px;-webkit-text-stroke:0.4px #333;">İQTİSADİYYAT</div>
<div class="t" style="left:662.5px;top:91.53px;font-size:10px;font-weight:normal;color:#333333;letter-spacing:0.1px;-webkit-text-stroke:0.4px #333;">NAZİRLİYİ</div>
<div class="t" style="left:59.5px;top:262.88px;font-size:22px;font-weight:bold;color:#111111;transform:scaleX(1.14);transform-origin:0 0;-webkit-text-stroke:0.7px #111;">Qeyri-neft sektorunun</div>
<div class="t" style="left:59.5px;top:290.63px;font-size:22px;font-weight:bold;color:#111111;transform:scaleX(1.14);transform-origin:0 0;-webkit-text-stroke:0.7px #111;">özəl bölməsi üzrə</div>
<div class="t" style="left:59.5px;top:507.88px;font-size:22px;font-weight:bold;color:#111111;transform:scaleX(1.14);transform-origin:0 0;-webkit-text-stroke:0.7px #111;">Neft sektorunda xarici və</div>
<div class="t" style="left:59.5px;top:536.38px;font-size:22px;font-weight:bold;color:#111111;transform:scaleX(1.14);transform-origin:0 0;-webkit-text-stroke:0.7px #111;">yerli subpodratçılar istisna olmaqla,</div>
<div class="t" style="left:59.5px;top:565.38px;font-size:22px;font-weight:bold;color:#111111;transform:scaleX(1.14);transform-origin:0 0;-webkit-text-stroke:0.7px #111;">özəl bölmə üzrə</div>
<div class="t" style="left:610.8px;top:269.26px;font-size:56.4px;font-weight:bold;color:#4a8c2a;transform:scaleX(0.665);letter-spacing:2.6px;transform-origin:0 0;-webkit-text-stroke:0.6px #4a8c2a;">44,7%</div>
<div class="t" style="left:557.2px;top:551.79px;font-size:47.5px;font-weight:bold;color:#4a8c2a;transform:scaleX(0.67);letter-spacing:2.3px;transform-origin:0 0;-webkit-text-stroke:0.5px #4a8c2a;">45,0%</div>
</body></html>
